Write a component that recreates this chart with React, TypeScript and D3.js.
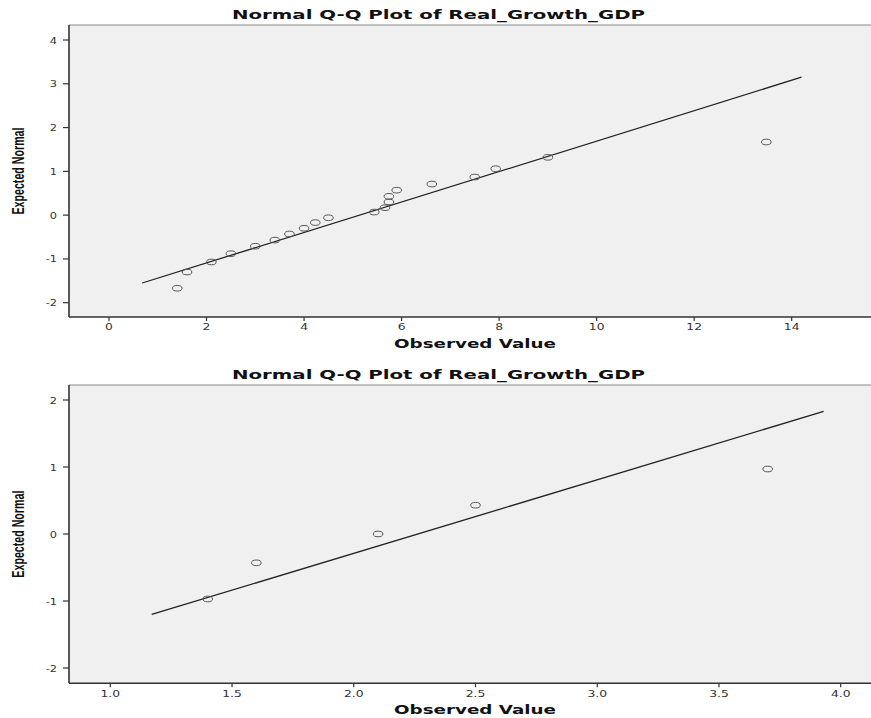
import * as d3 from "d3";

const width = 871;
const height = 718;

// Panel 1: all observations
const obs1 = [1.4, 1.6, 2.1, 2.5, 3.0, 3.4, 3.7, 4.0, 4.23, 4.5, 5.44, 5.66, 5.74, 5.74, 5.9, 6.62, 7.5, 7.93, 9.0, 13.48];
const exp1 = [-1.67, -1.3, -1.07, -0.88, -0.71, -0.57, -0.43, -0.3, -0.17, -0.06, 0.07, 0.17, 0.3, 0.43, 0.57, 0.71, 0.87, 1.06, 1.32, 1.67];
const lineX1 = [0.68, 14.2];
const lineY1 = [-1.55, 3.15];
const xTicks1 = [0, 2, 4, 6, 8, 10, 12, 14];
const yTicks1 = [-2, -1, 0, 1, 2, 3, 4];

// Panel 2: subset
const obs2 = [1.4, 1.6, 2.1, 2.5, 3.7];
const exp2 = [-0.97, -0.43, 0.0, 0.43, 0.97];
const lineX2 = [1.17, 3.93];
const lineY2 = [-1.2, 1.83];
const xTicks2 = [1.0, 1.5, 2.0, 2.5, 3.0, 3.5, 4.0];
const yTicks2 = [-2, -1, 0, 1, 2];

const title = "Normal Q-Q Plot of Real_Growth_GDP";

type PanelProps = {
    obs: number[];
    exp: number[];
    lineX: number[];
    lineY: number[];
    xTicks: number[];
    yTicks: number[];
    xDomain: number[];
    xRange: number[];
    yDomain: number[];
    yRange: number[];
    top: number;
    bottom: number;
    xFmt: (v: number) => string;
};

const plotLeft = 69;
const plotRight = 871;

function Panel(p: PanelProps) {
    const xScale = d3.scaleLinear().domain(p.xDomain).range(p.xRange);
    const yScale = d3.scaleLinear().domain(p.yDomain).range(p.yRange);

    const refLine = d3.line<number>()
        .x((d) => xScale(d))
        .y((d, i) => yScale(p.lineY[i]));

    const midY = (p.top + p.bottom) / 2;

    return (
        <g>
            <text x={232} y={p.top - 6} textLength={413} lengthAdjust="spacingAndGlyphs"
                fontFamily="DejaVu Sans" fontWeight="bold" fontSize={12} fill="#111">
                {title}
            </text>
            <rect x={plotLeft} y={p.top} width={plotRight - plotLeft} height={p.bottom - p.top} fill="#f0f0f0" />
            <line x1={plotLeft} x2={plotRight} y1={p.top} y2={p.top} stroke="#888" strokeWidth={1} />

            {p.yTicks.map((v) => (
                <g key={v} transform={`translate(57,${yScale(v)})`}>
                    <line x1={plotLeft - 63} x2={plotLeft - 57} stroke="#333" strokeWidth={1.2} />
                    <text y={3.5} textAnchor="end" fontFamily="DejaVu Sans" fontSize={9.5} fill="#333"
                        transform="scale(1.2,1)">
                        {String(v)}
                    </text>
                </g>
            ))}
            {p.xTicks.map((v) => (
                <g key={v} transform={`translate(${xScale(v)},${p.bottom})`}>
                    <line y1={0} y2={4} stroke="#333" strokeWidth={1.2} />
                    <text y={13.5} textAnchor="middle" fontFamily="DejaVu Sans" fontSize={9.5} fill="#333"
                        transform="scale(1.3,1)">
                        {p.xFmt(v)}
                    </text>
                </g>
            ))}

            <line x1={plotLeft} x2={plotLeft} y1={p.top} y2={p.bottom} stroke="#333" strokeWidth={1.6} />
            <line x1={plotLeft} x2={plotRight} y1={p.bottom} y2={p.bottom} stroke="#333" strokeWidth={1.4} />

            <path d={refLine(p.lineX) ?? ""} stroke="#222" strokeWidth={1.3} fill="none" />
            {p.obs.map((v, i) => (
                <ellipse key={i} cx={xScale(v)} cy={yScale(p.exp[i])} rx={4.8} ry={2.8}
                    fill="none" stroke="#555" strokeWidth={1} />
            ))}

            <text x={394} y={p.bottom + 31} textLength={162} lengthAdjust="spacingAndGlyphs"
                fontFamily="DejaVu Sans" fontWeight="bold" fontSize={11.5} fill="#111">
                Observed Value
            </text>
            <text transform={`translate(24,${midY}) rotate(-90)`} textAnchor="middle"
                textLength={87} lengthAdjust="spacingAndGlyphs"
                fontFamily="Liberation Sans" fontWeight="bold" fontSize={16} fill="#111">
                Expected Normal
            </text>
        </g>
    );
}

export default function App() {
    return (
        <svg width={width} height={height} style={{ position: "absolute", left: 0, top: 0, background: "#fff" }}>
            <Panel obs={obs1} exp={exp1} lineX={lineX1} lineY={lineY1}
                xTicks={xTicks1} yTicks={yTicks1}
                xDomain={[0, 14]} xRange={[109, 791.7]}
                yDomain={[-2, 4]} yRange={[302.7, 40]}
                top={25} bottom={317}
                xFmt={(v) => String(v)} />
            <Panel obs={obs2} exp={exp2} lineX={lineX2} lineY={lineY2}
                xTicks={xTicks2} yTicks={yTicks2}
                xDomain={[1, 4]} xRange={[110.3, 840.7]}
                yDomain={[-2, 2]} yRange={[668, 400]}
                top={385} bottom={683.3}
                xFmt={(v) => v.toFixed(1)} />
        </svg>
    );
}
